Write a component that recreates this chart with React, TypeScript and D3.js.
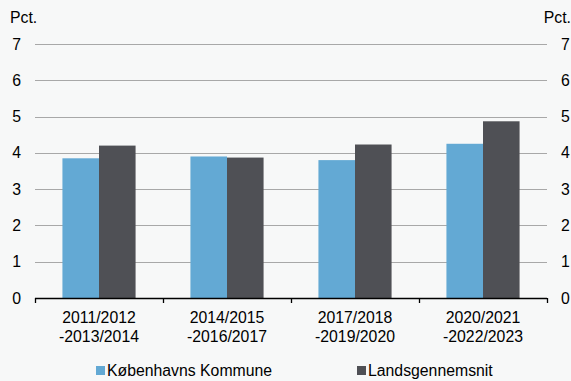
import { useEffect, useRef } from "react"
import * as d3 from "d3"

const categories = ["2011/2012\n-2013/2014", "2014/2015\n-2016/2017", "2017/2018\n-2019/2020", "2020/2021\n-2022/2023"]
const seriesNames = ["Københavns Kommune", "Landsgennemsnit"]
const kobenhavn = [3.85, 3.9, 3.8, 4.25]
const lands = [4.2, 3.87, 4.23, 4.87]
const yTicks = [0, 1, 2, 3, 4, 5, 6, 7]
const colors = ["#63a9d4", "#4f5055"]

export default function App() {
  const svgRef = useRef<SVGSVGElement>(null)

  useEffect(() => {
    document.body.style.margin = "0"
    if (!svgRef.current) return
    const svg = d3.select(svgRef.current)
    svg.selectAll("*").remove()

    const width = 571
    const height = 381
    const left = 35
    const right = 547
    const font = "Liberation Sans, Arial, sans-serif"

    svg.attr("width", width).attr("height", height)
    svg.append("rect").attr("width", width).attr("height", height).attr("fill", "#f7f8f8")

    const y = d3.scaleLinear().domain([0, 7]).range([298, 44])
    const x = d3.scaleBand<string>().domain(categories).range([left, right])
    const xs = d3.scaleBand<string>().domain(seriesNames).range([0, x.bandwidth()]).paddingOuter(0.75)

    // gridlines
    svg
      .selectAll(".grid")
      .data(yTicks.filter((t) => t > 0))
      .enter()
      .append("line")
      .attr("x1", left)
      .attr("x2", right)
      .attr("y1", (d) => Math.round(y(d)) + 0.5)
      .attr("y2", (d) => Math.round(y(d)) + 0.5)
      .attr("stroke", "#a8a8a8")
      .attr("stroke-width", 1)

    // bars
    const data = [kobenhavn, lands]
    data.forEach((vals, si) => {
      svg
        .selectAll(`.bar${si}`)
        .data(vals)
        .enter()
        .append("rect")
        .attr("x", (d, i) => x(categories[i])! + xs(seriesNames[si])!)
        .attr("width", xs.bandwidth())
        .attr("y", (d) => y(d))
        .attr("height", (d) => y(0) - y(d))
        .attr("fill", colors[si])
    })

    // x axis
    svg
      .append("line")
      .attr("x1", left)
      .attr("x2", right)
      .attr("y1", 298.5)
      .attr("y2", 298.5)
      .attr("stroke", "#000")
      .attr("stroke-width", 1.3)
    const bounds = categories.map((c) => x(c)!).concat([right])
    svg
      .selectAll(".xtick")
      .data(bounds)
      .enter()
      .append("line")
      .attr("x1", (d) => Math.round(d) + 0.5)
      .attr("x2", (d) => Math.round(d) + 0.5)
      .attr("y1", 298)
      .attr("y2", 303)
      .attr("stroke", "#000")
      .attr("stroke-width", 1.3)

    const labels = svg
      .selectAll(".xlabel")
      .data(categories)
      .enter()
      .append("text")
      .attr("text-anchor", "middle")
      .style("font-family", font)
      .style("font-size", "15.8px")
      .attr("fill", "#000")
    labels
      .selectAll("tspan")
      .data((d) => d.split("\n").map((line) => ({ line, c: d })))
      .enter()
      .append("tspan")
      .attr("x", (d) => x(d.c)! + x.bandwidth() / 2)
      .attr("y", (d, i) => 323 + i * 18.5)
      .text((d) => d.line)

    // y axis labels
    svg
      .selectAll(".ylabelL")
      .data(yTicks)
      .enter()
      .append("text")
      .attr("x", 21)
      .attr("y", (d) => y(d))
      .attr("dy", "0.35em")
      .attr("text-anchor", "end")
      .style("font-family", font)
      .style("font-size", "15.8px")
      .text((d) => d)
    svg
      .selectAll(".ylabelR")
      .data(yTicks)
      .enter()
      .append("text")
      .attr("x", 561)
      .attr("y", (d) => y(d))
      .attr("dy", "0.35em")
      .attr("text-anchor", "start")
      .style("font-family", font)
      .style("font-size", "15.8px")
      .text((d) => d)

    svg
      .append("text")
      .attr("x", 10)
      .attr("y", 23)
      .style("font-family", font)
      .style("font-size", "15.8px")
      .text("Pct.")
    svg
      .append("text")
      .attr("x", 571)
      .attr("y", 23)
      .attr("text-anchor", "end")
      .style("font-family", font)
      .style("font-size", "15.8px")
      .text("Pct.")

    // legend
    const legendX = [96, 357]
    const legend = svg
      .selectAll(".legend")
      .data(seriesNames)
      .enter()
      .append("g")
      .attr("transform", (d, i) => `translate(${legendX[i]}, 366)`)
    legend
      .append("rect")
      .attr("width", 9)
      .attr("height", 9)
      .attr("fill", (d, i) => colors[i])
    legend
      .append("text")
      .attr("x", 11)
      .attr("y", 10)
      .style("font-family", font)
      .style("font-size", "15.8px")
      .text((d) => d)
  }, [])

  return <svg ref={svgRef} style={{ display: "block" }}></svg>
}
